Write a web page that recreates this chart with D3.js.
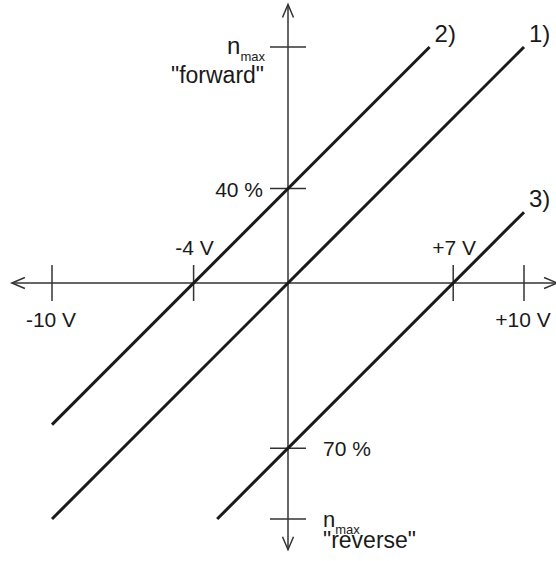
<!DOCTYPE html>
<html>
<head>
<meta charset="utf-8">
<script src="https://cdn.jsdelivr.net/npm/d3@7"></script>
<style>
  body { margin: 0; background: #fff; }
  text { font-family: "Liberation Sans", Arial, sans-serif; fill: #1a1a1a; }
</style>
</head>
<body>
<div id="chart"></div>
<script>
// voltage ticks on the horizontal axis
const voltTicks = [-10, -4, 7, 10];
const voltLabels = ['-10 V', '-4 V', '+7 V', '+10 V'];
const voltAbove = [false, true, true, false];

// speed ticks on the vertical axis (percent of n max)
const speedTicks = [100, 40, -70, -100];

// the three characteristic lines, [volt, percent]
const lineNames = ['1)', '2)', '3)'];
const line1 = [[-10, -100], [10, 100]];
const line2 = [[-10, -60], [6, 100]];
const line3 = [[-3, -100], [10, 30]];

// axis extents incl. arrow heads
const voltExtent = [-11.7, 11.4];
const speedExtent = [-113, 118];

const width = 556;
const height = 561;

const svg = d3.select('#chart')
  .append('svg')
  .attr('width', width)
  .attr('height', height);

// create scales!
const x = d3.scaleLinear().domain([-10, 10]).range([52, 524]);
const y = d3.scaleLinear().domain([-100, 100]).range([519, 47]);

const axisColor = '#333';
const tick = 18;

// horizontal axis
svg.append('line')
  .attr('x1', x(voltExtent[0])).attr('x2', x(voltExtent[1]))
  .attr('y1', y(0)).attr('y2', y(0))
  .attr('stroke', axisColor).attr('stroke-width', 1.5);

// vertical axis
svg.append('line')
  .attr('x1', x(0)).attr('x2', x(0))
  .attr('y1', y(speedExtent[1])).attr('y2', y(speedExtent[0]))
  .attr('stroke', axisColor).attr('stroke-width', 1.5);

// open arrow heads
const ah = 13, aw = 5.5;
const arrows = [
  [[x(voltExtent[0]) + ah, y(0) - aw], [x(voltExtent[0]), y(0)], [x(voltExtent[0]) + ah, y(0) + aw]],
  [[x(voltExtent[1]) - ah, y(0) - aw], [x(voltExtent[1]), y(0)], [x(voltExtent[1]) - ah, y(0) + aw]],
  [[x(0) - aw, y(speedExtent[1]) + ah], [x(0), y(speedExtent[1])], [x(0) + aw, y(speedExtent[1]) + ah]],
  [[x(0) - aw, y(speedExtent[0]) - ah], [x(0), y(speedExtent[0])], [x(0) + aw, y(speedExtent[0]) - ah]]
];
svg.selectAll('.arrow')
  .data(arrows)
  .enter()
  .append('path')
  .classed('arrow', true)
  .attr('d', d3.line())
  .attr('fill', 'none')
  .attr('stroke', axisColor)
  .attr('stroke-width', 1.5);

// volt ticks
svg.selectAll('.vtick')
  .data(voltTicks)
  .enter()
  .append('line')
  .classed('vtick', true)
  .attr('x1', d => x(d)).attr('x2', d => x(d))
  .attr('y1', y(0) - tick).attr('y2', y(0) + tick)
  .attr('stroke', axisColor).attr('stroke-width', 1.5);

svg.selectAll('.vlabel')
  .data(voltTicks)
  .enter()
  .append('text')
  .classed('vlabel', true)
  .attr('x', (d, i) => x(d) + (voltAbove[i] ? 1 : -1))
  .attr('y', (d, i) => voltAbove[i] ? y(0) - 28 : y(0) + 44)
  .style('font-size', '21px')
  .style('text-anchor', 'middle')
  .text((d, i) => voltLabels[i]);

// speed ticks
svg.selectAll('.stick')
  .data(speedTicks)
  .enter()
  .append('line')
  .classed('stick', true)
  .attr('x1', x(0) - tick).attr('x2', x(0) + tick)
  .attr('y1', d => y(d)).attr('y2', d => y(d))
  .attr('stroke', axisColor).attr('stroke-width', 1.5);

// speed labels
svg.append('text')
  .attr('x', x(0) - 25).attr('y', y(40) + 8)
  .style('font-size', '21px')
  .style('text-anchor', 'end')
  .text('40 %');

svg.append('text')
  .attr('x', x(0) + 35).attr('y', y(-70) + 8)
  .style('font-size', '21px')
  .text('70 %');

// n max "forward"
const fwd = svg.append('text')
  .attr('x', x(0) - 23).attr('y', y(100) + 7)
  .style('text-anchor', 'end');
fwd.append('tspan').style('font-size', '24px').text('n');
fwd.append('tspan').attr('dy', 7).style('font-size', '13px').text('max');
svg.append('text')
  .attr('x', x(0) - 24).attr('y', y(100) + 36)
  .style('font-size', '23px')
  .style('text-anchor', 'end')
  .text('"forward"');

// n max "reverse"
const rev = svg.append('text')
  .attr('x', x(0) + 35).attr('y', y(-100) + 8);
rev.append('tspan').style('font-size', '22px').text('n');
rev.append('tspan').attr('dy', 7).style('font-size', '13px').text('max');
svg.append('text')
  .attr('x', x(0) + 35).attr('y', y(-100) + 29)
  .style('font-size', '23px')
  .text('"reverse"');

// characteristic lines
const lines = [line1, line2, line3];
const lineGen = d3.line()
  .x(d => x(d[0]))
  .y(d => y(d[1]));

svg.selectAll('.curve')
  .data(lines)
  .enter()
  .append('path')
  .classed('curve', true)
  .attr('d', lineGen)
  .attr('fill', 'none')
  .attr('stroke', '#1a1a1a')
  .attr('stroke-width', 3);

svg.selectAll('.curve-label')
  .data(lines)
  .enter()
  .append('text')
  .classed('curve-label', true)
  .attr('x', d => x(d[1][0]) + 5)
  .attr('y', d => y(d[1][1]) - 5)
  .style('font-size', '24px')
  .text((d, i) => lineNames[i]);
</script>
</body>
</html>
